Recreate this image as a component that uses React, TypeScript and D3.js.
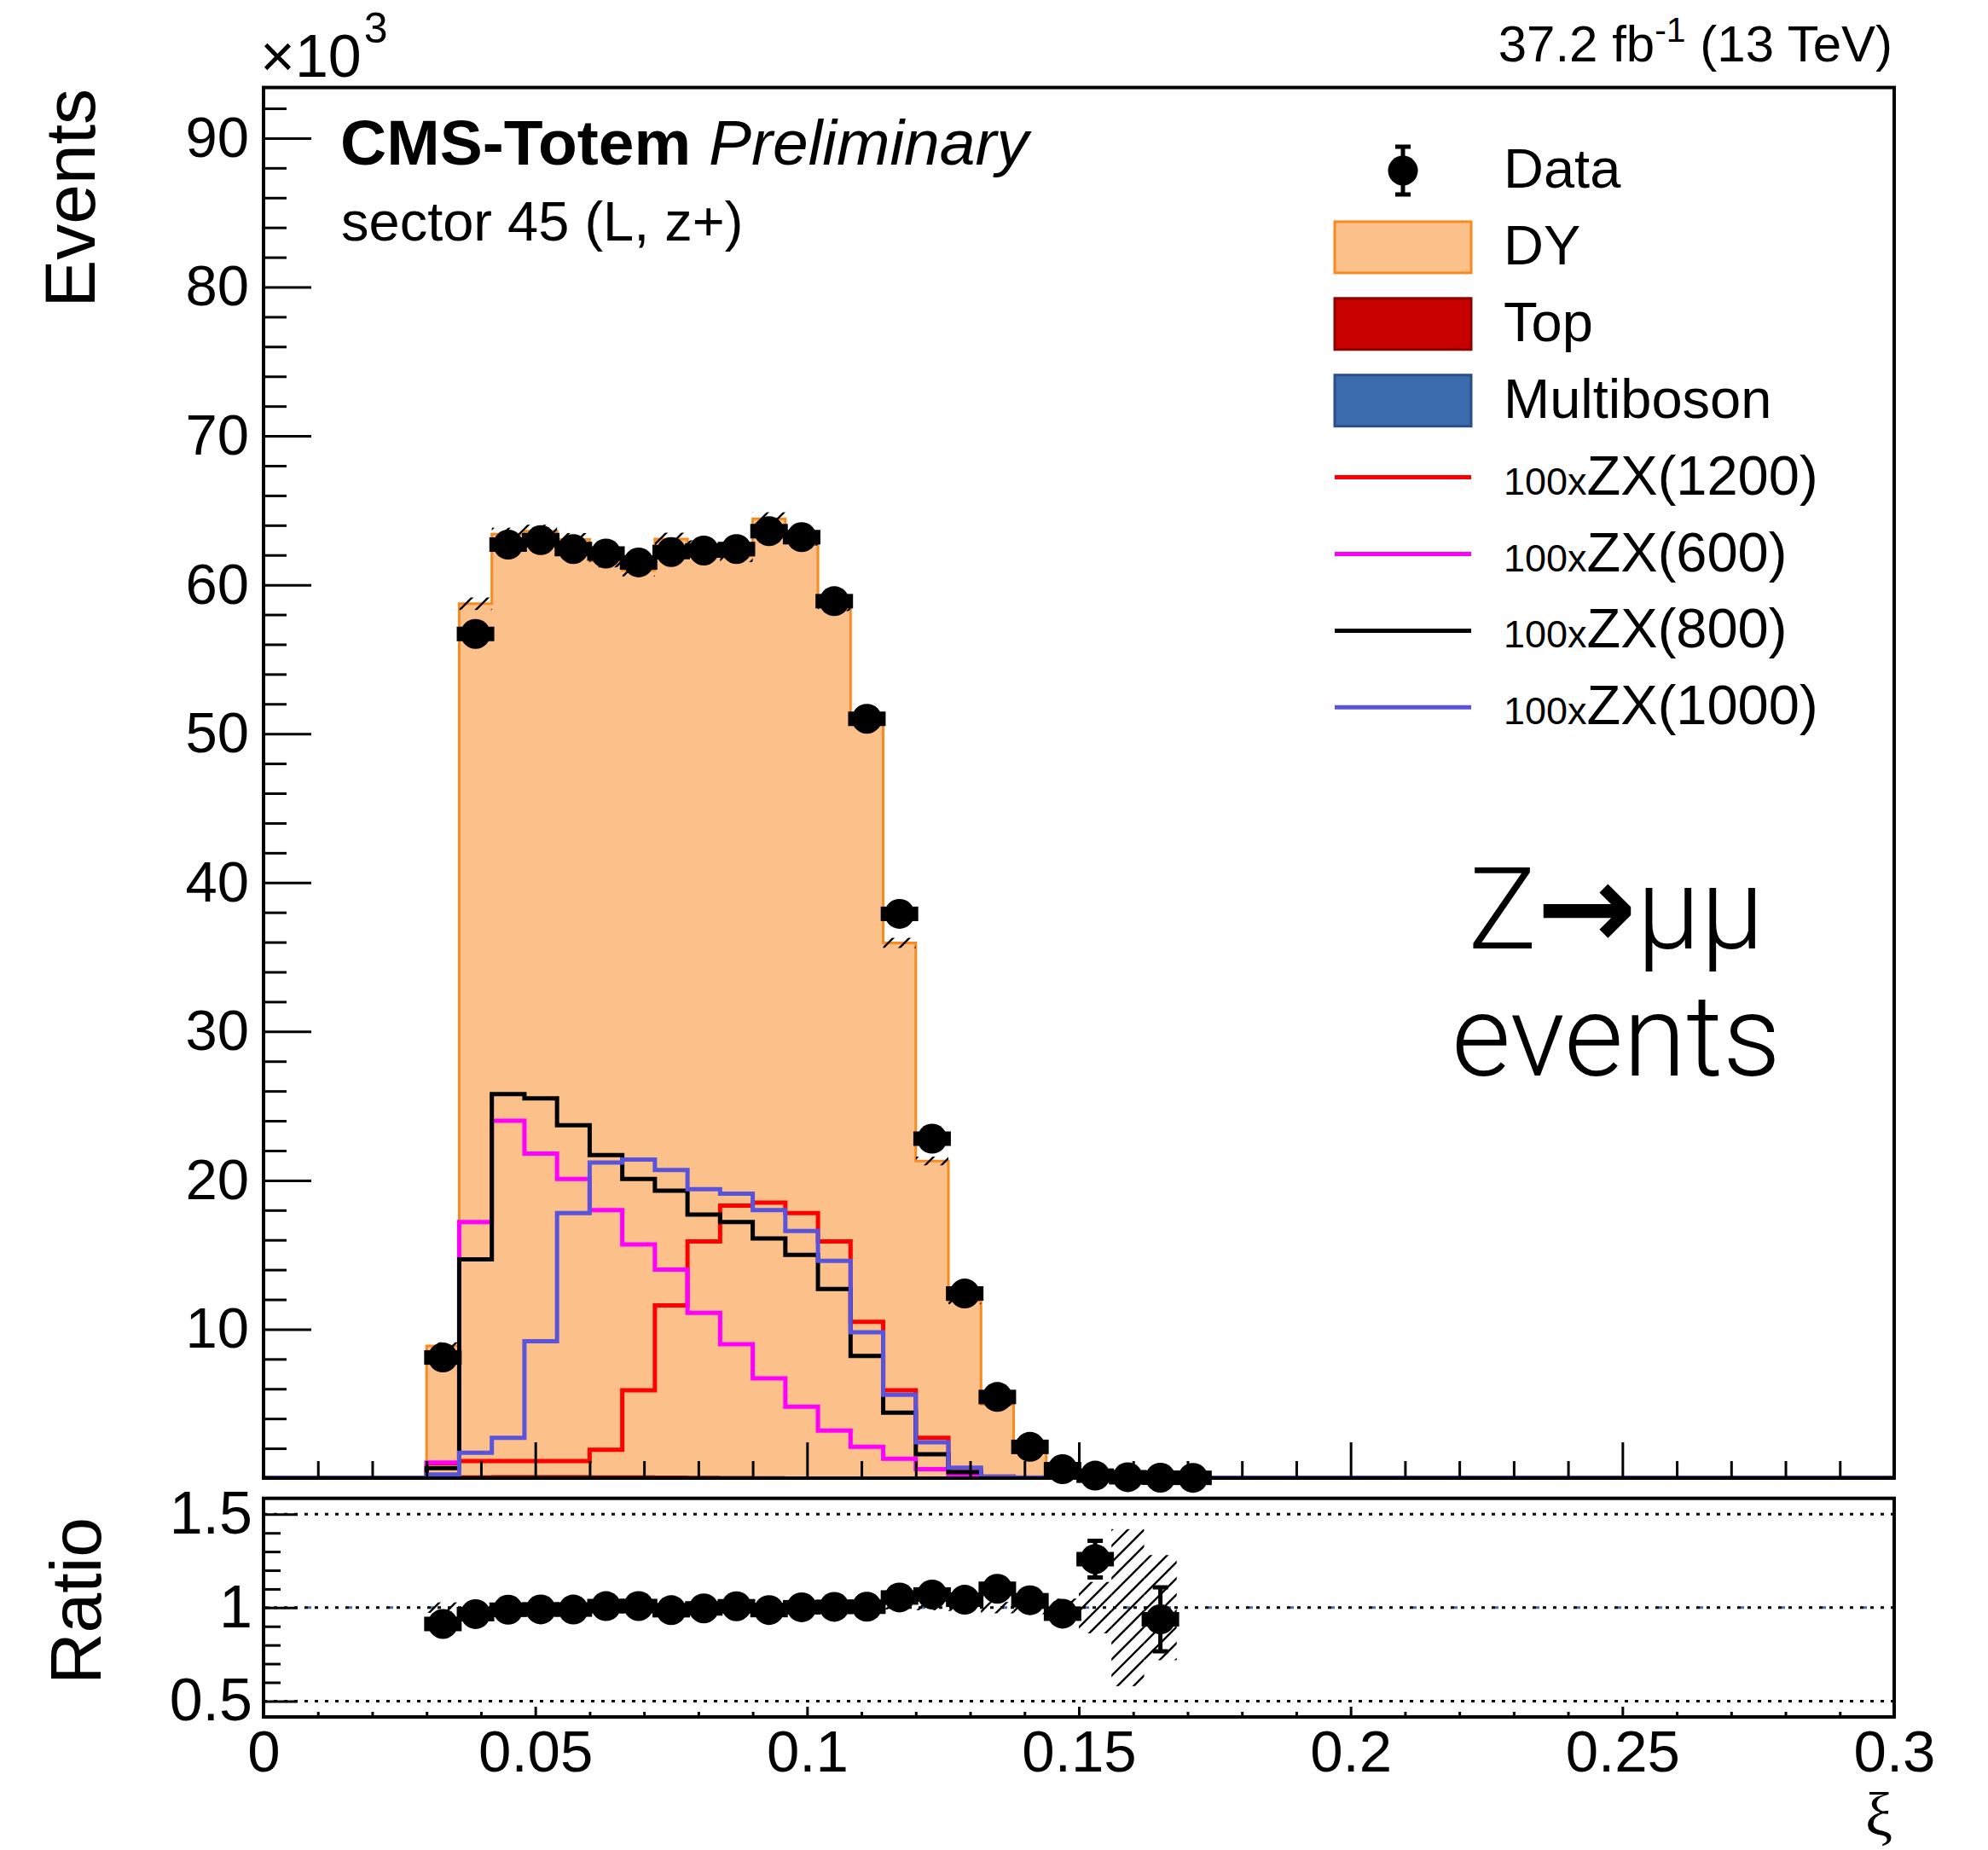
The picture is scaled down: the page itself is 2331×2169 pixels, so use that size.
import React, { useRef, useEffect } from 'react';
import * as d3 from 'd3';

const FONT = "'Liberation Sans', Arial, Helvetica, sans-serif";

// xi histogram binning: 50 bins over [0, 0.3]
const nBins = 50;
const xiRange = [0, 0.3];
// the arrays below start at bin 5 (xi = 0.030)
const firstBin = 5;

// events per bin
const dataEvents = [8100, 56700, 62700, 63000, 62400, 62100, 61500, 62200, 62300, 62400, 63600, 63200,
  58900, 51000, 37900, 22800, 12400, 5450, 2100, 600, 165, 60, 30, 20];
const dyEvents = [8840, 58550, 63200, 63400, 62850, 61400, 60800, 62900, 62400, 61800, 64300, 62950,
  58550, 50680, 35900, 21270, 11880, 4940, 2015, 618, 131, 30, 32];
const topEvents = [30, 150, 170, 170, 160, 160, 150, 140, 130, 120, 110, 100, 80, 60, 40, 25, 15, 8, 4, 2];
const multibosonEvents = [5, 30, 35, 35, 35, 32, 30, 28, 26, 24, 22, 20, 16, 12, 8, 5, 3, 2, 1];
const mcStatError = [250, 420, 430, 430, 430, 420, 420, 430, 430, 420, 440, 430, 410, 380, 340, 290,
  210, 150, 70, 30, 18, 12.6, 9];

// signal templates (x100)
const zx1200 = [1000, 1150, 1150, 1150, 1150, 1900, 5900, 11600, 15900, 18300, 18500, 17800, 15900,
  10500, 5900, 2700, 500, 100, 30];
const zx600 = [1050, 17200, 24000, 21800, 20100, 18000, 15700, 14000, 11100, 9000, 6700, 4800, 3200,
  2100, 1300, 600, 200, 50];
const zx800 = [670, 14700, 25800, 25500, 23700, 21700, 20100, 19300, 17700, 17200, 16100, 15000, 12700,
  8200, 4400, 1600, 400, 50];
const zx1000 = [250, 1700, 2700, 9200, 17800, 21200, 21400, 20700, 19400, 19100, 18000, 16600, 14600,
  9800, 5600, 2400, 700, 100, 50];

const xMajorTicks = [0, 0.05, 0.1, 0.15, 0.2, 0.25, 0.3];
const yMajorTicks = [10000, 20000, 30000, 40000, 50000, 60000, 70000, 80000, 90000];
const ratioMajorTicks = [0.5, 1, 1.5];
const ratioMinorTicks = [0.6, 0.7, 0.8, 0.9, 1.1, 1.2, 1.3, 1.4];

const stackKeys = ['Multiboson', 'Top', 'DY'];
const stackStyle = {
  DY: { fill: '#fcc08a', line: '#f98a1f' },
  Top: { fill: '#c80000', line: '#8c0000' },
  Multiboson: { fill: '#3b6aad', line: '#2b4f86' },
};

const signals = [
  { mass: '1200', values: zx1200, color: '#ff0000' },
  { mass: '600', values: zx600, color: '#ff00ff' },
  { mass: '800', values: zx800, color: '#000000' },
  { mass: '1000', values: zx1000, color: '#5a54dc' },
];

function App() {
  const svgRef = useRef(null);

  useEffect(() => {
    const svg = d3.select(svgRef.current);
    svg.selectAll('*').remove();

    const left = 309, right = 2221;
    const x = d3.scaleLinear().domain(xiRange).range([left, right]);
    const y = d3.scaleLinear().domain([0, 93400]).range([1733, 102.6]);
    const yr = d3.scaleLinear().domain([0.415, 1.585]).range([2013, 1756.7]);

    const edges = d3.range(nBins + 1).map(i => xiRange[0] + (i * (xiRange[1] - xiRange[0])) / nBins);
    const perBin = vals => d3.range(nBins).map(i => vals[i - firstBin] ?? 0);

    const data = perBin(dataEvents);
    const err = perBin(mcStatError);
    const mb = perBin(multibosonEvents), tp = perBin(topEvents), dy = perBin(dyEvents);
    const rows = d3.range(nBins).map(i => ({ Multiboson: mb[i], Top: tp[i], DY: dy[i] }));
    const layers = d3.stack().keys(stackKeys)(rows);
    const total = rows.map(r => r.Multiboson + r.Top + r.DY);

    const defs = svg.append('defs');
    const pat = defs.append('pattern').attr('id', 'hatch')
      .attr('patternUnits', 'userSpaceOnUse').attr('width', 19).attr('height', 19);
    pat.append('path').attr('d', 'M-2,2 L2,-2 M0,19 L19,0 M17,21 L21,17')
      .attr('stroke', '#000').attr('stroke-width', 2.4);
    defs.append('clipPath').attr('id', 'clipMain').append('rect')
      .attr('x', left).attr('y', 102.6).attr('width', right - left).attr('height', 1733 - 102.6);
    defs.append('clipPath').attr('id', 'clipRatio').append('rect')
      .attr('x', left).attr('y', 1756.7).attr('width', right - left).attr('height', 2013 - 1756.7);

    const closeStep = arr => [...arr, arr[arr.length - 1]];
    const stepArea = d3.area().curve(d3.curveStepAfter)
      .x((_, i) => x(edges[i])).y0(d => y(d[0])).y1(d => y(d[1]));
    const stepLine = d3.line().curve(d3.curveStepAfter)
      .x((_, i) => x(edges[i])).y(d => y(d));

    // ---- main pad
    const main = svg.append('g').attr('clip-path', 'url(#clipMain)');
    layers.forEach(layer => {
      const pts = closeStep(layer.map(d => [d[0], d[1]]));
      main.append('path').attr('d', stepArea(pts)).attr('fill', stackStyle[layer.key].fill);
      main.append('path').attr('d', stepLine(pts.map(p => p[1])))
        .attr('fill', 'none').attr('stroke', stackStyle[layer.key].line).attr('stroke-width', 3);
    });

    main.selectAll('rect.band')
      .data(d3.range(nBins).filter(i => err[i] > 0))
      .join('rect')
      .attr('x', i => x(edges[i])).attr('width', i => x(edges[i + 1]) - x(edges[i]))
      .attr('y', i => y(total[i] + err[i]))
      .attr('height', i => y(total[i] - err[i]) - y(total[i] + err[i]))
      .attr('fill', 'url(#hatch)');

    signals.forEach(s => {
      main.append('path').attr('d', stepLine(closeStep(perBin(s.values))))
        .attr('fill', 'none').attr('stroke', s.color).attr('stroke-width', 5);
    });

    const marker = (g, cx, cy, hi, lo, ears = true) => {
      g.append('line').attr('x1', cx).attr('x2', cx).attr('y1', hi).attr('y2', lo)
        .attr('stroke', '#000').attr('stroke-width', 5);
      g.append('rect').attr('x', cx - 9).attr('y', hi - 2.5).attr('width', 18).attr('height', 5);
      g.append('rect').attr('x', cx - 9).attr('y', lo - 2.5).attr('width', 18).attr('height', 5);
      if (ears) g.append('rect').attr('x', cx - 22).attr('y', cy - 8.5).attr('width', 44).attr('height', 17);
      g.append('circle').attr('cx', cx).attr('cy', cy).attr('r', 17.5);
    };

    const pts = svg.append('g').attr('fill', '#000');
    d3.range(nBins).filter(i => data[i] > 0).forEach(i => {
      const cx = x((edges[i] + edges[i + 1]) / 2);
      const e = Math.sqrt(data[i]);
      marker(pts, cx, y(data[i]), y(data[i] + e), y(data[i] - e));
    });

    // ---- ratio pad
    const rg = svg.append('g').attr('clip-path', 'url(#clipRatio)');
    ratioMajorTicks.forEach(v => {
      rg.append('line').attr('x1', left).attr('x2', right).attr('y1', yr(v)).attr('y2', yr(v))
        .attr('stroke', '#000').attr('stroke-width', 3).attr('stroke-dasharray', '4 8');
    });
    rg.append('line').attr('x1', left + 4).attr('x2', right).attr('y1', yr(1)).attr('y2', yr(1))
      .attr('stroke', '#3f6fb0').attr('stroke-width', 3).attr('stroke-dasharray', '4 44');
    rg.selectAll('rect.band')
      .data(d3.range(nBins).filter(i => total[i] > 0 && err[i] > 0))
      .join('rect')
      .attr('x', i => x(edges[i])).attr('width', i => x(edges[i + 1]) - x(edges[i]))
      .attr('y', i => yr(1 + err[i] / total[i]))
      .attr('height', i => yr(1 - err[i] / total[i]) - yr(1 + err[i] / total[i]))
      .attr('fill', 'url(#hatch)');

    const rpts = svg.append('g').attr('fill', '#000');
    d3.range(nBins).filter(i => data[i] > 0 && total[i] > 0).forEach(i => {
      const r = data[i] / total[i];
      const e = Math.sqrt(data[i]) / total[i];
      if (r < yr.domain()[0] || r > yr.domain()[1]) return;
      const cx = x((edges[i] + edges[i + 1]) / 2);
      marker(rpts, cx, yr(r), yr(r + e), yr(r - e));
    });

    // ---- axes
    const styleAxis = (g, size) => {
      g.select('.domain').remove();
      g.selectAll('line').attr('stroke-width', 3);
      g.attr('font-family', FONT).attr('font-size', size);
    };
    const yMinor = d3.range(2000, 93400, 2000).filter(v => v % 10000 !== 0);
    svg.append('g').attr('transform', `translate(${left},0)`)
      .call(d3.axisLeft(y).tickValues(yMinor).tickSize(-27).tickFormat(() => ''))
      .call(g => styleAxis(g, 10));
    svg.append('g').attr('transform', `translate(${left},0)`)
      .call(d3.axisLeft(y).tickValues(yMajorTicks).tickSize(-56).tickPadding(17).tickFormat(d => String(d / 1000)))
      .call(g => styleAxis(g, 67));

    const xMinor = d3.range(1, 30).filter(k => k % 5 !== 0).map(k => k / 100);
    svg.append('g').attr('transform', 'translate(0,1733)')
      .call(d3.axisBottom(x).tickValues(xMinor).tickSize(-20).tickFormat(() => ''))
      .call(g => styleAxis(g, 10));
    svg.append('g').attr('transform', 'translate(0,1733)')
      .call(d3.axisBottom(x).tickValues(xMajorTicks).tickSize(-42).tickFormat(() => ''))
      .call(g => styleAxis(g, 10));

    svg.append('g').attr('transform', 'translate(0,2013)')
      .call(d3.axisBottom(x).tickValues(xMinor).tickSize(-6).tickFormat(() => ''))
      .call(g => styleAxis(g, 10));
    svg.append('g').attr('transform', 'translate(0,2013)')
      .call(d3.axisBottom(x).tickValues(xMajorTicks).tickSize(-12).tickPadding(15).tickFormat(d => String(d)))
      .call(g => styleAxis(g, 69));

    svg.append('g').attr('transform', `translate(${left},0)`)
      .call(d3.axisLeft(yr).tickValues(ratioMinorTicks).tickSize(-20).tickFormat(() => ''))
      .call(g => styleAxis(g, 10));
    svg.append('g').attr('transform', `translate(${left},0)`)
      .call(d3.axisLeft(yr).tickValues(ratioMajorTicks).tickSize(-40).tickPadding(13).tickFormat(d => String(d)))
      .call(g => styleAxis(g, 70));

    // frames
    svg.append('rect').attr('x', left).attr('y', 102.6).attr('width', right - left).attr('height', 1733 - 102.6)
      .attr('fill', 'none').attr('stroke', '#000').attr('stroke-width', 4);
    svg.append('rect').attr('x', left).attr('y', 1756.7).attr('width', right - left).attr('height', 2013 - 1756.7)
      .attr('fill', 'none').attr('stroke', '#000').attr('stroke-width', 4);

    // ---- texts
    const txt = svg.append('g').attr('font-family', FONT).attr('fill', '#000');
    txt.append('text').attr('transform', 'translate(111,104) rotate(-90)')
      .attr('text-anchor', 'end').attr('font-size', 84).text('Events');
    txt.append('text').attr('transform', 'translate(118,1877) rotate(-90)')
      .attr('text-anchor', 'middle').attr('font-size', 84).text('Ratio');
    txt.append('text').attr('x', 2219).attr('y', 2152).attr('text-anchor', 'end')
      .attr('font-family', "'Liberation Serif', 'DejaVu Serif', serif").attr('font-size', 72).text('ξ');

    const mult = txt.append('text').attr('x', 305).attr('y', 90).attr('font-size', 70);
    mult.append('tspan').text('×10');
    mult.append('tspan').attr('dx', 3).attr('dy', -40).attr('font-size', 50).text('3');

    const lumi = txt.append('text').attr('x', 2219).attr('y', 72).attr('text-anchor', 'end').attr('font-size', 60);
    lumi.append('tspan').text('37.2 fb');
    lumi.append('tspan').attr('dy', -23).attr('font-size', 41).text('-1');
    lumi.append('tspan').attr('dy', 23).text(' (13 TeV)');

    const cms = txt.append('text').attr('x', 399).attr('y', 193).attr('font-size', 75);
    cms.append('tspan').attr('font-weight', 'bold').text('CMS-Totem');
    cms.append('tspan').attr('font-style', 'italic').text(' Preliminary');
    txt.append('text').attr('x', 400).attr('y', 282).attr('font-size', 65).text('sector 45 (L, z+)');

    const big = txt.append('g').attr('font-family', "Roboto, Lato, 'Open Sans', sans-serif")
      .attr('font-weight', 300).attr('font-size', 134).attr('text-anchor', 'middle');
    const zt = big.append('text').attr('x', 1895).attr('y', 1112);
    zt.append('tspan').text('Z');
    zt.append('tspan').attr('font-family', "'DejaVu Sans', sans-serif").attr('font-weight', 'bold')
      .attr('font-size', 140).text('→');
    zt.append('tspan').text('μμ');
    big.append('text').attr('x', 1895).attr('y', 1261).text('events');

    // ---- legend
    const leg = svg.append('g').attr('font-family', FONT);
    const rowY = k => 200 + 89.9 * k;
    const lx0 = 1565, lx1 = 1725, ltx = 1763;
    const lm = leg.append('g').attr('fill', '#000');
    marker(lm, (lx0 + lx1) / 2, rowY(0), rowY(0) - 28, rowY(0) + 28, false);
    leg.append('text').attr('x', ltx).attr('y', rowY(0) + 20).attr('font-size', 65).text('Data');
    ['DY', 'Top', 'Multiboson'].forEach((k, j) => {
      const cy = rowY(j + 1);
      leg.append('rect').attr('x', lx0).attr('y', cy - 30).attr('width', lx1 - lx0).attr('height', 60)
        .attr('fill', stackStyle[k].fill).attr('stroke', stackStyle[k].line).attr('stroke-width', 3);
      leg.append('text').attr('x', ltx).attr('y', cy + 20).attr('font-size', 65).text(k);
    });
    signals.forEach((s, j) => {
      const cy = rowY(j + 4);
      leg.append('line').attr('x1', lx0).attr('x2', lx1).attr('y1', cy).attr('y2', cy)
        .attr('stroke', s.color).attr('stroke-width', 5);
      const t = leg.append('text').attr('x', ltx).attr('y', cy + 20);
      t.append('tspan').attr('font-size', 45).text('100x');
      t.append('tspan').attr('font-size', 65).text(`ZX(${s.mass})`);
    });
  }, []);

  return (
    <svg ref={svgRef} width={2331} height={2169}
      style={{ position: 'absolute', left: 0, top: 0, background: '#fff' }} />
  );
}

export default App;
